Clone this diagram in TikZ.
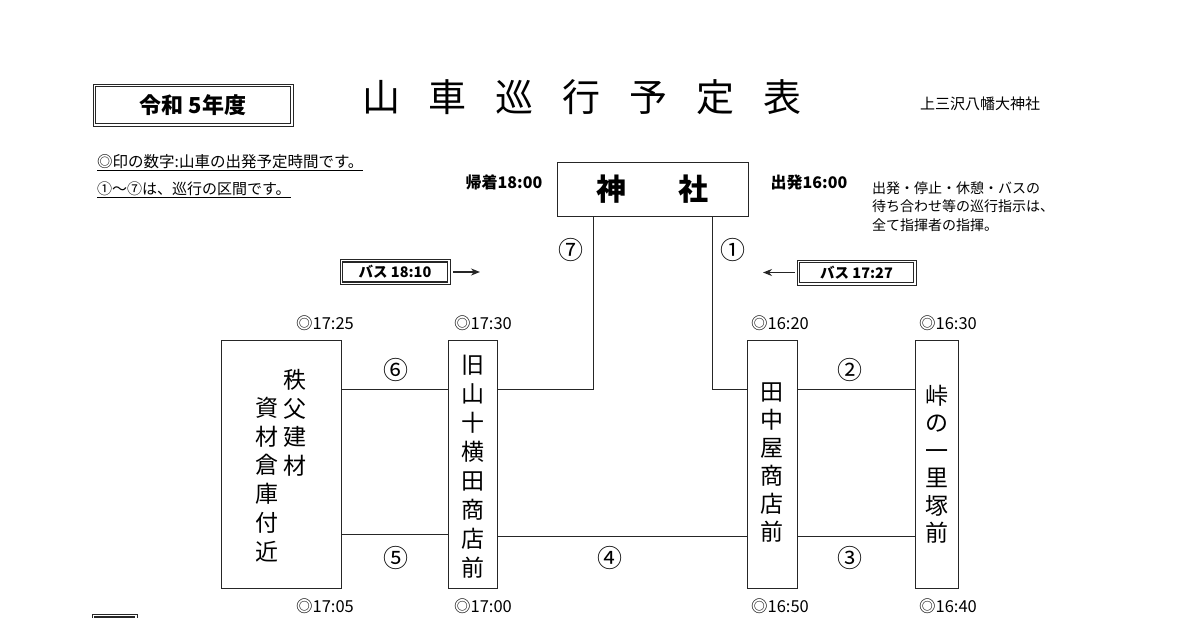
\documentclass[tikz,border=0pt]{standalone}
\usepackage{fontspec}
\setmainfont{Noto Sans CJK JP}
\usetikzlibrary{calc,arrows.meta}
\tikzset{
  ln/.style={line width=0.9pt, draw=black!85},
  stbox/.style={draw=black!85, line width=1pt, inner sep=0pt, anchor=center},
  dbox/.style={draw=black!85, line width=0.8pt, inner sep=0pt},
  inbox/.style={draw=black!85, line width=1.5pt},
  tm/.style={font=\fontsize{16.5}{16.5}\selectfont, inner sep=0pt},
  cn/.style={font=\fontsize{25}{25}\selectfont, inner sep=0pt},
  vt/.style={align=center, inner sep=0pt},
  arr/.style={draw=black!85, line width=1.6pt, -{Stealth[length=9pt,width=7pt]}},
}
\begin{document}
\begin{tikzpicture}[x=1pt,y=-1pt]
\useasboundingbox (0,0) rectangle (1200,618);
\fill[white] (0,0) rectangle (1200,618);

% header
\node[dbox, minimum width=200, minimum height=42] (year) at (193,105)
  {\fontsize{22}{22}\selectfont\bfseries 令和 5年度};
\draw[inbox] ($(year.south west)+(3,-3)$) rectangle ($(year.north east)+(-3,3)$);
\node[inner sep=0pt, font=\fontsize{38}{38}\selectfont] (title) at (582,97)
  {山\hspace{29pt}車\hspace{29pt}巡\hspace{29pt}行\hspace{29pt}予\hspace{29pt}定\hspace{29pt}表};
\node[inner sep=0pt, anchor=west, font=\fontsize{15}{15}\selectfont] (shrinename) at (920,104) {上三沢八幡大神社};

\node[inner sep=0pt, anchor=west, font=\fontsize{15.5}{15.5}\selectfont] (note1) at (97,163) {\underline{◎印の数字:山車の出発予定時間です。}};
\node[inner sep=0pt, anchor=west, font=\fontsize{15}{15}\selectfont] (note2) at (97,190) {\underline{①～⑦は、巡行の区間です。}};

\node[inner sep=0pt, anchor=north west, align=left, font=\fontsize{14}{18.5}\selectfont] (note3) at (872,181)
  {出発・停止・休憩・バスの\\待ち合わせ等の巡行指示は、\\全て指揮者の指揮。};

% shrine
\node[stbox, minimum width=191, minimum height=54] (jinja) at (652.5,189)
  {\fontsize{30}{30}\selectfont\bfseries 神\hspace{52pt}社};
\node[inner sep=0pt, font=\fontsize{16}{16}\selectfont\bfseries] (kichaku) at (504,182) {帰着18:00};
\node[inner sep=0pt, font=\fontsize{16}{16}\selectfont\bfseries] (shuppatsu) at (809,182) {出発16:00};

% stations
\node[stbox, minimum width=120, minimum height=248] (chichibu) at (281,464) {};
\node[vt, font=\fontsize{23}{28.7}\selectfont, anchor=north] (chA) at (295,369) {秩\\父\\建\\材};
\node[vt, font=\fontsize{23}{28.7}\selectfont, anchor=north] (chB) at (267,397) {資\\材\\倉\\庫\\付\\近};

\node[stbox, minimum width=49, minimum height=248] (kyu) at (472.5,464) {};
\node[vt, font=\fontsize{23}{29}\selectfont] (kyuT) at (472.5,467) {旧\\山\\十\\横\\田\\商\\店\\前};

\node[stbox, minimum width=50, minimum height=248] (tanaka) at (772,464) {};
\node[vt, font=\fontsize{23}{28}\selectfont] (tanakaT) at (772,463) {田\\中\\屋\\商\\店\\前};

\node[stbox, minimum width=43, minimum height=248] (touge) at (936.5,464) {};
\node[vt, font=\fontsize{23}{27.5}\selectfont] (tougeT) at (937,464) {峠\\の\\一\\里\\塚\\前};

% connectors
\draw[ln] ($(jinja.south west)+(37,0)$) |- ($(kyu.north east)+(0,50)$);
\draw[ln] ($(jinja.south west)+(156,0)$) |- ($(tanaka.north west)+(0,50)$);
\draw[ln] ($(chichibu.north east)+(0,50)$) -- ($(kyu.north west)+(0,50)$);
\draw[ln] ($(chichibu.north east)+(0,195)$) -- ($(kyu.north west)+(0,195)$);
\draw[ln] ($(kyu.north east)+(0,197)$) -- ($(tanaka.north west)+(0,197)$);
\draw[ln] ($(tanaka.north east)+(0,50)$) -- ($(touge.north west)+(0,50)$);
\draw[ln] ($(tanaka.north east)+(0,197)$) -- ($(touge.north west)+(0,197)$);

% section numbers
\node[cn] (s7) at (571,250) {⑦};
\node[cn] (s1) at (733,250) {①};
\node[cn] (s6) at (396,370) {⑥};
\node[cn] (s5) at (396,558) {⑤};
\node[cn] (s4) at (610,558) {④};
\node[cn] (s2) at (850,370) {②};
\node[cn] (s3) at (850,558) {③};

% bus boxes
\node[dbox, minimum width=110, minimum height=25] (bus1) at (395,272)
  {\fontsize{14.5}{14.5}\selectfont\bfseries バス 18:10};
\draw[inbox] ($(bus1.south west)+(3,-3)$) rectangle ($(bus1.north east)+(-3,3)$);
\coordinate (bus1end) at (480,272);
\draw[arr] ($(bus1.east)+(3,0)$) -- (bus1end);
\node[dbox, minimum width=119, minimum height=25] (bus2) at (856.5,272.5)
  {\fontsize{14.5}{14.5}\selectfont\bfseries バス 17:27};
\draw[inbox] ($(bus2.south west)+(3,-3)$) rectangle ($(bus2.north east)+(-3,3)$);
\coordinate (bus2end) at (763,272.5);
\draw[arr] ($(bus2.west)+(-2,0)$) -- (bus2end);

% times
\node[tm] (t1) at (325,323) {◎17:25};
\node[tm] (t2) at (483,323) {◎17:30};
\node[tm] (t3) at (780,323) {◎16:20};
\node[tm] (t4) at (948,323) {◎16:30};
\node[tm] (t5) at (325,606) {◎17:05};
\node[tm] (t6) at (483,606) {◎17:00};
\node[tm] (t7) at (780,606) {◎16:50};
\node[tm] (t8) at (948,606) {◎16:40};

% partial box at bottom edge
\draw[draw=black!85, line width=0.8pt] (92,614) rectangle (137,660);
\draw[inbox] (95,617) rectangle (134,660);
\end{tikzpicture}
\end{document}
